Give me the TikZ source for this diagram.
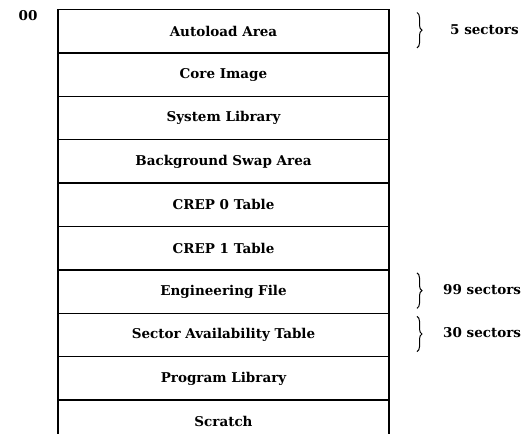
\documentclass[tikz,border=0pt]{standalone}
\usepackage{fontspec}
\setmainfont{DejaVu Serif}
\usetikzlibrary{positioning,calc,decorations.pathreplacing}
\tikzset{
  rowbox/.style={draw, line width=1.5pt, minimum width=331pt, minimum height=43.4pt,
                 inner sep=0pt, outer sep=0pt, font=\fontsize{13.5}{16}\selectfont\bfseries},
  tag/.style={anchor=west, inner sep=0pt, font=\fontsize{13.5}{16}\selectfont\bfseries},
  sbrace/.style={decorate, decoration={brace, amplitude=5pt}, line width=1pt},
}

\begin{document}
\begin{tikzpicture}[x=1pt, y=-1pt]
  \useasboundingbox (0,0) rectangle (531,434);
  % memory map rows
  \node[rowbox] (auto) at (223.5,31.2) {Autoload Area};
  \node[rowbox, below=0pt of auto] (core) {Core Image};
  \node[rowbox, below=0pt of core] (slib) {System Library};
  \node[rowbox, below=0pt of slib] (swap) {Background Swap Area};
  \node[rowbox, below=0pt of swap] (crepa) {CREP 0 Table};
  \node[rowbox, below=0pt of crepa] (crepb) {CREP 1 Table};
  \node[rowbox, below=0pt of crepb] (engf) {Engineering File};
  \node[rowbox, below=0pt of engf] (sat) {Sector Availability Table};
  \node[rowbox, below=0pt of sat] (plib) {Program Library};
  \node[rowbox, draw=none, below=0pt of plib] (scr) {Scratch};
  \draw[line width=1.5pt] (scr.north west) -- (scr.south west);
  \draw[line width=1.5pt] (scr.north east) -- (scr.south east);
  % start address
  \node[tag, anchor=center] (zero) at (28,16) {00};
  % sector counts
  \draw[sbrace] ($(auto.north east)+(28,3)$) -- ($(auto.south east)+(28,-5)$);
  \node[tag] (fivesec) at ($(auto.east)+(61,-2)$) {5 sectors};
  \draw[sbrace] ($(engf.north east)+(28,3)$) -- ($(engf.south east)+(28,-5)$);
  \node[tag] (engsec) at ($(engf.east)+(54,-2)$) {99 sectors};
  \draw[sbrace] ($(sat.north east)+(28,3)$) -- ($(sat.south east)+(28,-5)$);
  \node[tag] (satsec) at ($(sat.east)+(54,-2)$) {30 sectors};
\end{tikzpicture}
\end{document}
